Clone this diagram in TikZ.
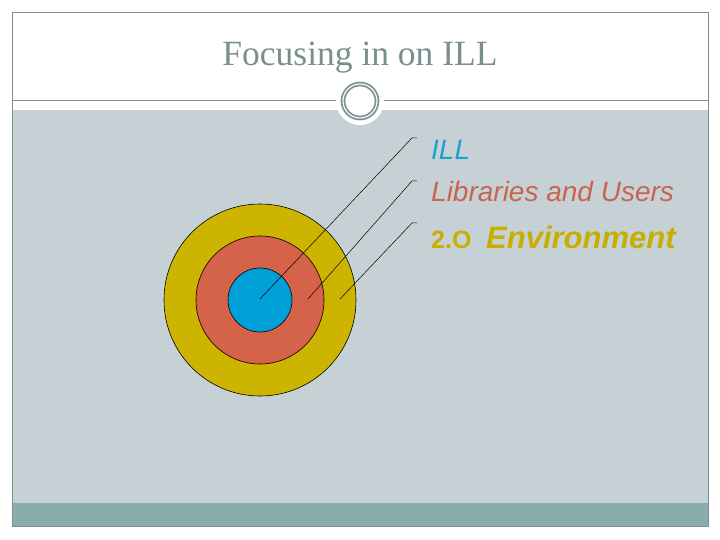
\documentclass[tikz,border=0pt]{standalone}
\usepackage{fontspec}
\setmainfont{Liberation Serif}
\setsansfont{Liberation Sans}
\usetikzlibrary{calc,positioning}

\definecolor{framegray}{RGB}{128,144,144}
\definecolor{titlegray}{RGB}{122,142,142}
\definecolor{panelgray}{RGB}{198,209,214}
\definecolor{barteal}{RGB}{138,172,172}
\definecolor{envyellow}{RGB}{205,180,0}
\definecolor{libred}{RGB}{212,99,74}
\definecolor{illblue}{RGB}{0,160,214}
\definecolor{illtext}{RGB}{30,160,210}
\definecolor{libtext}{RGB}{200,100,80}
\definecolor{envtext}{RGB}{200,174,0}

\tikzset{
  ring/.style={draw=black, line width=0.6pt},
  pointer/.style={draw=black, line width=0.5pt},
  label/.style={anchor=base west, inner sep=0pt, font=\sffamily\itshape\fontsize{28}{30}\selectfont}
}

\begin{document}
\begin{tikzpicture}[x=1pt,y=-1pt]
  \useasboundingbox (0,0) rectangle (720,540);
  \fill[white] (0,0) rectangle (720,540);

  % slide frame
  \coordinate(TL) at (12, 12);
  \coordinate(BR) at (708, 526);
  \fill[panelgray] (12, 110) rectangle (708, 503);
  \fill[barteal] (12, 503) rectangle (708, 526);
  \draw[framegray, line width=0.8pt] (TL) rectangle (BR);
  \draw[framegray, line width=0.8pt] (12, 100) -- (708, 100);
  \coordinate(K) at (360, 101);
  \fill[white] (K) circle (24);
  \draw[framegray, line width=1.8pt, double=white, double distance=1.1pt] (K) circle (17);

  \node[anchor=base, inner sep=0pt, text=titlegray, font=\fontsize{35.5}{38}\selectfont]
    (title) at (360, 66) {Focusing in on ILL};

  % target
  \coordinate(O) at (260, 300);
\draw[ring, fill=envyellow] (O) circle (96);
\draw[ring, fill=libred] (O) circle (64);
\draw[ring, fill=illblue] (O) circle (32);

  % pointers
  \coordinate(A) at (260, 299);
  \coordinate(B) at (308, 299);
  \coordinate(C) at (340, 299);
  \coordinate(Ak) at (412, 138);
  \coordinate(Bk) at (412, 181);
  \coordinate(Ck) at (412, 223);
  \coordinate(Ae) at (417, 138);
  \coordinate(Be) at (417, 181);
  \coordinate(Ce) at (417, 223);

\draw[pointer] (A) -- (Ak) -- (Ae) (B) -- (Bk) -- (Be) (C) -- (Ck) -- (Ce);

  \node[label, text=illtext] (ill) at (431, 160) {ILL};
  \node[label, text=libtext] (libs) at (431, 202) {Libraries and Users};
  \node[anchor=base west, inner sep=0pt, text=envtext, font=\sffamily\bfseries\fontsize{25}{27}\selectfont]
    (ver) at (431, 248) {2.O};
  \node[anchor=base west, inner sep=0pt, text=envtext, font=\sffamily\bfseries\itshape\fontsize{31}{33}\selectfont]
    (env) at (486, 248) {Environment};
\end{tikzpicture}
\end{document}
